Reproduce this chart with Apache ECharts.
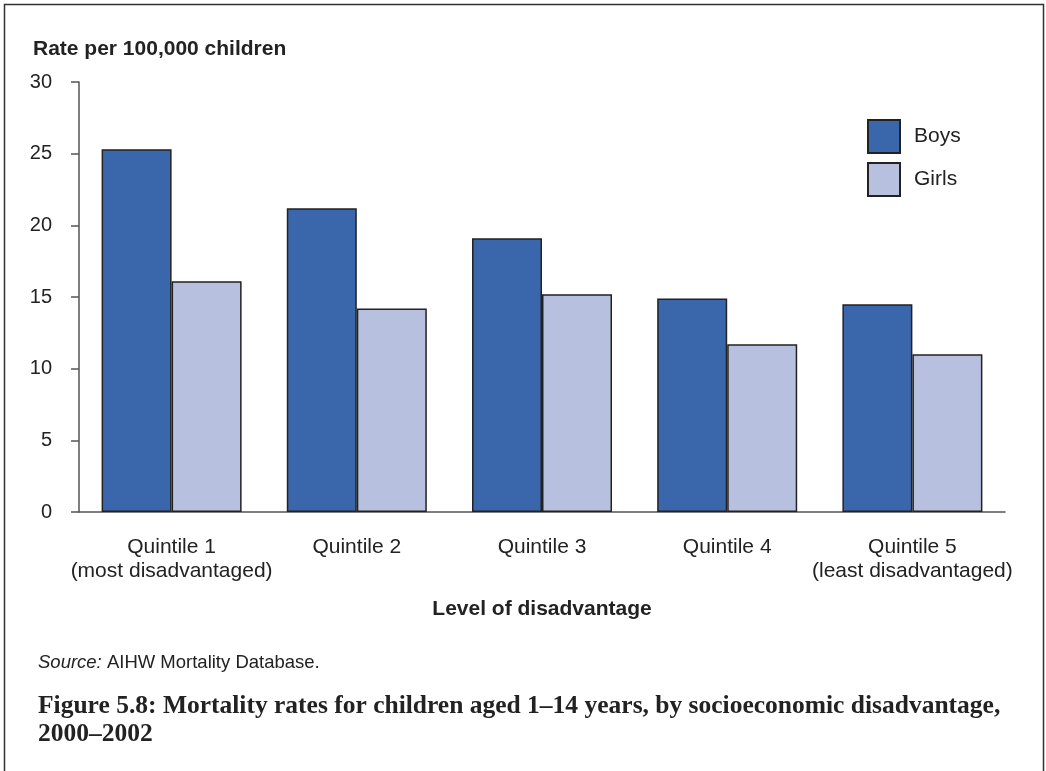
<!DOCTYPE html>
<html>
<head>
<meta charset="utf-8">
<script src="https://cdn.jsdelivr.net/npm/echarts@6/dist/echarts.min.js"></script>
<style>
  html, body { margin: 0; padding: 0; background: #fff; }
  #chart { width: 1046px; height: 771px; }
</style>
</head>
<body>
<div id="chart"></div>
<script>
// Mortality rates per 100,000 children aged 1–14, by quintile of disadvantage
const categories = ['Quintile 1\n(most disadvantaged)', 'Quintile 2', 'Quintile 3', 'Quintile 4', 'Quintile 5\n(least disadvantaged)'];
const boys = [25.3, 21.2, 19.1, 14.9, 14.5];
const girls = [16.1, 14.2, 15.2, 11.7, 11.0];
const yTicks = { min: 0, max: 30, interval: 5 };

const sans = '"Liberation Sans", Arial, sans-serif';
const serif = '"Liberation Serif", "Times New Roman", serif';

const chart = echarts.init(document.getElementById('chart'), null, { renderer: 'canvas' });

chart.setOption({
  animation: false,
  backgroundColor: '#fff',
  grid: { left: 79, right: 41, top: 82, bottom: 259, containLabel: false },
  legend: {
    orient: 'vertical',
    left: 867,
    top: 119,
    padding: 0,
    itemWidth: 32,
    itemHeight: 33,
    itemGap: 8,
    icon: 'rect',
    textStyle: { fontFamily: sans, fontSize: 21, color: '#222', padding: [3, 0, 0, 9] },
    data: ['Boys', 'Girls']
  },
  xAxis: {
    type: 'category',
    data: categories,
    axisLine: { lineStyle: { color: '#555', width: 1.5 } },
    axisTick: { show: false },
    axisLabel: { interval: 0, fontFamily: sans, fontSize: 21, color: '#222', margin: 23, lineHeight: 24 },
    name: 'Level of disadvantage',
    nameLocation: 'middle',
    nameGap: 87,
    nameTextStyle: { fontFamily: sans, fontSize: 21, fontWeight: 'bold', color: '#222' }
  },
  yAxis: {
    type: 'value',
    min: yTicks.min,
    max: yTicks.max,
    interval: yTicks.interval,
    splitLine: { show: false },
    axisLine: { show: true, lineStyle: { color: '#555', width: 1.5 } },
    axisTick: { show: true, length: 8, lineStyle: { color: '#555', width: 1.5 } },
    axisLabel: { fontFamily: sans, fontSize: 20, color: '#222', margin: 27 }
  },
  series: [
    {
      name: 'Boys',
      type: 'bar',
      data: boys,
      barGap: '0%',
      barCategoryGap: '24.4%',
      itemStyle: { color: '#3a67ac', borderColor: '#222', borderWidth: 1.5 }
    },
    {
      name: 'Girls',
      type: 'bar',
      data: girls,
      barGap: '0%',
      barCategoryGap: '24.4%',
      itemStyle: { color: '#b7c0df', borderColor: '#222', borderWidth: 1.5 }
    }
  ],
  graphic: [
    {
      type: 'rect',
      shape: { x: 4.5, y: 4.5, width: 1039, height: 800 },
      style: { fill: 'none', stroke: '#333', lineWidth: 1.5 },
      silent: true
    },
    {
      type: 'text',
      left: 33, top: 39,
      style: { text: 'Rate per 100,000 children', fontFamily: sans, fontSize: 21, fontWeight: 'bold', fill: '#222' }
    },
    {
      type: 'text',
      left: 38, top: 653,
      style: {
        text: '{i|Source:} AIHW Mortality Database.',
        fontFamily: sans, fontSize: 18.5, fill: '#222',
        rich: { i: { fontFamily: sans, fontSize: 18.5, fontStyle: 'italic', fill: '#222' } }
      }
    },
    {
      type: 'text',
      left: 38, top: 692,
      style: {
        text: 'Figure 5.8: Mortality rates for children aged 1–14 years, by socioeconomic disadvantage,\n2000–2002',
        fontFamily: serif, fontSize: 25.5, fontWeight: 'bold', fill: '#222', lineHeight: 28
      }
    }
  ]
});
</script>
</body>
</html>
